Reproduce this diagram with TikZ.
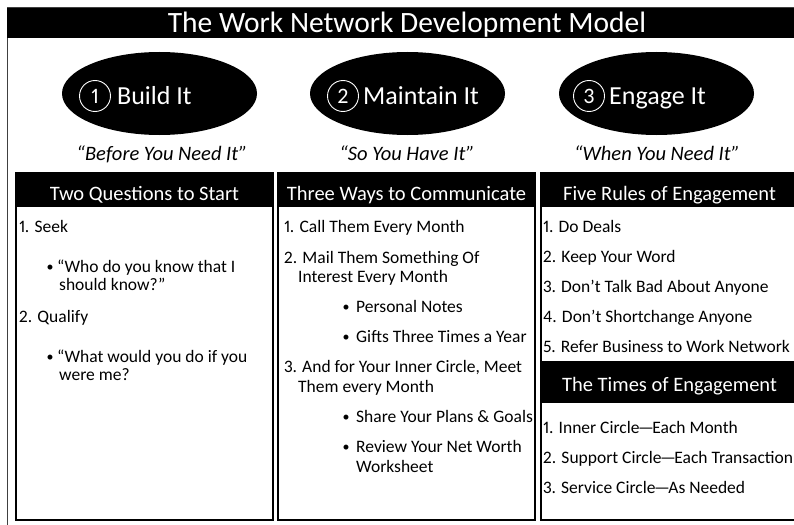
\documentclass[tikz,border=0pt]{standalone}
\usepackage{fontspec}
\setmainfont{Carlito}[Numbers=Proportional]
\usetikzlibrary{shapes.geometric}
\newcommand{\tdash}{\kern-1.5pt—\kern-1.5pt}
\begin{document}
\begin{tikzpicture}[x=1pt,y=-1pt,
  body/.style={anchor=base west,inner sep=0pt,font=\fontsize{17.5}{20}\selectfont},
  bul/.style={anchor=base,inner sep=0pt,font=\fontsize{14}{16}\selectfont},
  hdrtext/.style={anchor=base,inner sep=0pt,text=white,font=\fontsize{20.5}{24}\selectfont},
  panel/.style={draw=black,line width=1.3pt},
  oval/.style={ellipse,fill=black,minimum width=195pt,minimum height=83pt,inner sep=0pt},
  numc/.style={circle,draw=white,line width=0.9pt,minimum size=31pt,inner sep=0pt,text=white,font=\fontsize{22}{24}\selectfont},
  ovaltext/.style={anchor=base west,inner sep=0pt,text=white,font=\fontsize{26}{30}\selectfont},
  motto/.style={anchor=base,inner sep=0pt,font=\fontsize{20.5}{24}\selectfont\itshape}]
\clip (0,0) rectangle (794,524);
\fill[white] (0,0) rectangle (794,524);
% outer frame and title band
\draw[black!75,line width=1pt] (7,8) rectangle (807,540);
\fill[black] (7,8) rectangle (807,38);
\node[anchor=base,inner sep=0pt,text=white,font=\fontsize{29.5}{34}\selectfont] (title) at (407,33) {The Work Network Development Model};
% ovals
\node[oval] (e1) at (159.5,93.5) {};
\node[oval] (e2) at (407.5,93.5) {};
\node[oval] (e3) at (656.5,93.5) {};
\node[numc] (c1) at (95,96) {1};
\node[numc] (c2) at (343,96) {2};
\node[numc] (c3) at (589,96) {3};
\node[ovaltext] (o1) at (117,104) {Build It};
\node[ovaltext] (o2) at (363,104) {Maintain It};
\node[ovaltext] (o3) at (609,104) {Engage It};
% mottos
\node[motto] (m1) at (162,160) {“Before You Need It”};
\node[motto] (m2) at (407,160) {“So You Have It”};
\node[motto] (m3) at (657,160) {“When You Need It”};
% panels
\fill[black] (16,173) rectangle (273,207);
\fill[black] (278,173) rectangle (535,207);
\fill[black] (541,173) rectangle (798,207);
\fill[black] (541,362) rectangle (798,403);
\draw[panel] (16,173) rectangle (273,520);
\draw[panel] (278,173) rectangle (535,520);
\draw[panel] (541,173) rectangle (798,520);
\draw[panel] (541,362) -- (798,362);
\node[hdrtext] (h1) at (144.5,200) {Two Questions to Start};
\node[hdrtext] (h2) at (406.5,200) {Three Ways to Communicate};
\node[hdrtext] (h3) at (669.5,200) {Five Rules of Engagement};
\node[hdrtext] (h4) at (669.5,391) {The Times of Engagement};
% panel 1
\node[body] (a1) at (19,232) {1. Seek};
\node[bul] (ab1) at (50,271) {•};
\node[body] (a2) at (57,272) {“Who do you know that I};
\node[body] (a3) at (59,290) {should know?”};
\node[body] (a4) at (19,322) {2. Qualify};
\node[bul] (ab2) at (50,361) {•};
\node[body] (a5) at (57,362) {“What would you do if you};
\node[body] (a6) at (59,380) {were me?};
% panel 2
\node[body] (b1) at (284,232) {1. Call Them Every Month};
\node[body] (b2) at (284,263) {2. Mail Them Something Of};
\node[body] (b3) at (298,282) {Interest Every Month};
\node[bul] (bb1) at (346,311) {•};
\node[body] (b4) at (356,312) {Personal Notes};
\node[bul] (bb2) at (346,341) {•};
\node[body] (b5) at (356,342) {Gifts Three Times a Year};
\node[body] (b6) at (284,372) {3. And for Your Inner Circle, Meet};
\node[body] (b7) at (298,392) {Them every Month};
\node[bul] (bb3) at (346,421) {•};
\node[body] (b8) at (356,422) {Share Your Plans \& Goals};
\node[bul] (bb4) at (346,451) {•};
\node[body] (b9) at (356,452) {Review Your Net Worth};
\node[body] (b10) at (356,472) {Worksheet};
% panel 3
\node[body] (c31) at (543,232) {1. Do Deals};
\node[body] (c32) at (543,262) {2. Keep Your Word};
\node[body] (c33) at (543,292) {3. Don’t Talk Bad About Anyone};
\node[body] (c34) at (543,322) {4. Don’t Shortchange Anyone};
\node[body] (c35) at (543,352) {5. Refer Business to Work Network};
\node[body] (d1) at (543,433) {1. Inner Circle\tdash Each Month};
\node[body] (d2) at (543,463) {2. Support Circle\tdash Each Transaction};
\node[body] (d3) at (543,493) {3. Service Circle\tdash As Needed};
\end{tikzpicture}
\end{document}
